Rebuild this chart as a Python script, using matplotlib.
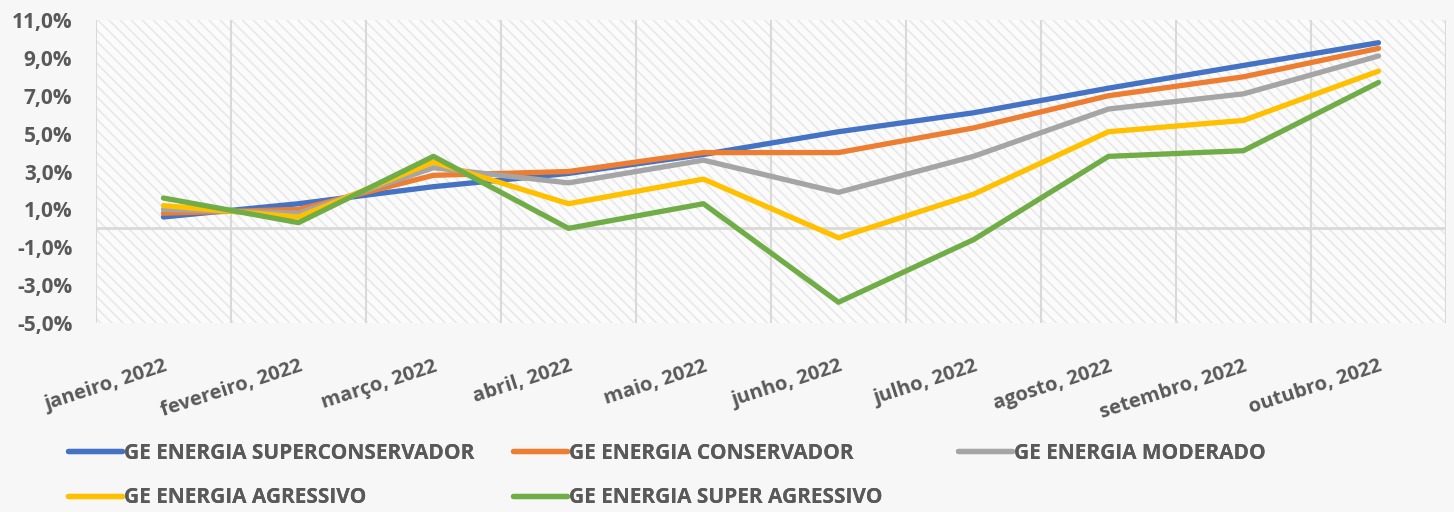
import matplotlib.pyplot as plt
from matplotlib.lines import Line2D
from matplotlib.ticker import FuncFormatter

months = ['janeiro, 2022', 'fevereiro, 2022', 'março, 2022', 'abril, 2022', 'maio, 2022',
          'junho, 2022', 'julho, 2022', 'agosto, 2022', 'setembro, 2022', 'outubro, 2022']

superconservador = [0.6, 1.3, 2.2, 2.9, 3.9, 5.1, 6.1, 7.4, 8.6, 9.8]
conservador = [0.8, 1.0, 2.8, 3.0, 4.0, 4.0, 5.3, 7.0, 8.0, 9.5]
moderado = [1.0, 0.8, 3.2, 2.4, 3.6, 1.9, 3.8, 6.3, 7.1, 9.1]
agressivo = [1.2, 0.6, 3.5, 1.3, 2.6, -0.5, 1.8, 5.1, 5.7, 8.3]
super_agressivo = [1.6, 0.3, 3.8, 0.0, 1.3, -3.9, -0.6, 3.8, 4.1, 7.7]

series_names = ['GE ENERGIA SUPERCONSERVADOR', 'GE ENERGIA CONSERVADOR', 'GE ENERGIA MODERADO',
                'GE ENERGIA AGRESSIVO', 'GE ENERGIA SUPER AGRESSIVO']
series_values = [superconservador, conservador, moderado, agressivo, super_agressivo]
colors = ['#4472C4', '#ED7D31', '#A5A5A5', '#FFC000', '#70AD47']
y_ticks = [-5, -3, -1, 1, 3, 5, 7, 9, 11]

plt.rcParams['font.family'] = ['Open Sans', 'DejaVu Sans']
plt.rcParams['hatch.linewidth'] = 1.2
text_color = '#595959'

fig = plt.figure(figsize=(14.54, 5.12), dpi=100, facecolor='#f7f7f7')
ax = fig.add_axes([0.066, 0.369, 0.9285, 0.592])

# hatched plot area like the excel pattern fill
ax.patch.set_facecolor('#fbfbfb')
ax.patch.set_hatch('\\\\\\')
ax.patch.set_edgecolor('#e8e8e8')
ax.patch.set_linewidth(0)

x = list(range(len(months)))
for name, vals, c in zip(series_names, series_values, colors):
    ax.plot(x, vals, color=c, lw=3.8, solid_capstyle='round', solid_joinstyle='round', zorder=3)

ax.set_xlim(-0.5, len(months) - 0.5)
ax.set_ylim(-5, 11)
ax.set_yticks(y_ticks)
ax.yaxis.set_major_formatter(FuncFormatter(lambda v, p: f'{v:.1f}%'.replace('.', ',')))

# vertical gridlines between categories
for b in range(len(months) + 1):
    ax.axvline(b - 0.5, color='#d9d9d9', lw=1.5, zorder=1)
ax.axhline(0, color='#d9d9d9', lw=2, zorder=2)

for s in ax.spines.values():
    s.set_visible(False)
ax.tick_params(length=0)
ax.tick_params(axis='y', labelsize=15, labelcolor=text_color, pad=17)
for lbl in ax.get_yticklabels():
    lbl.set_fontweight('bold')
ax.set_xticks(x)
ax.set_xticklabels(months, rotation=18, ha='right', rotation_mode='anchor',
                   fontsize=14.5, color=text_color, fontweight='bold')
ax.tick_params(axis='x', pad=24)

# legend entries placed in a 3 column grid
legend_pos = [(0.034, 0.115), (0.34, 0.115), (0.646, 0.115), (0.034, 0.028), (0.34, 0.028)]
for name, c, (lx, ly) in zip(series_names, colors, legend_pos):
    h = Line2D([0], [0], color=c, lw=3.8, solid_capstyle='round')
    leg = fig.legend(handles=[h], labels=[name], loc='center left', bbox_to_anchor=(lx, ly),
                     frameon=False, handlelength=2.6, handletextpad=0.1,
                     prop={'size': 15, 'weight': 'bold'})
    for t in leg.get_texts():
        t.set_color(text_color)
    fig.add_artist(leg)

fig.savefig('out.png', dpi=100, facecolor=fig.get_facecolor())
